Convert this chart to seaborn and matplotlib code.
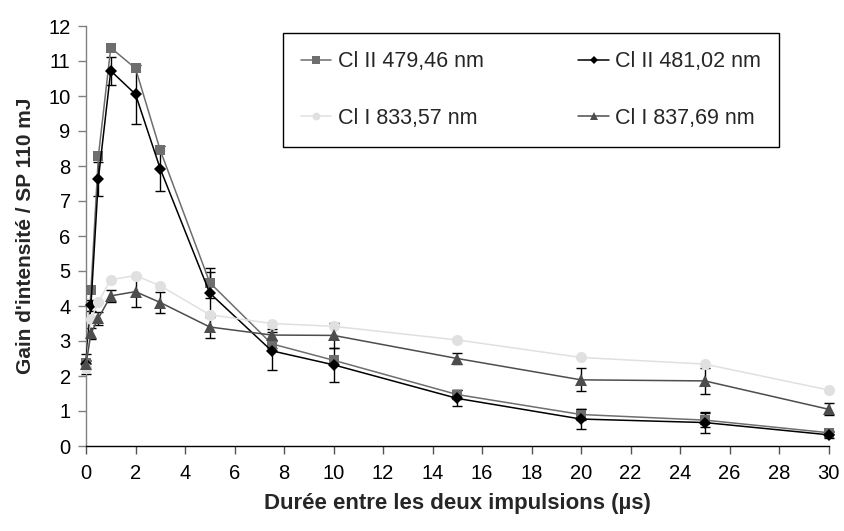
import pandas as pd
import numpy as np
import seaborn as sns
import matplotlib
matplotlib.use("Agg")
import matplotlib.pyplot as plt

# data
delay_us = [0, 0.2, 0.5, 1, 2, 3, 5, 7.5, 10, 15, 20, 25, 30]
series_names = ["Cl II 479,46 nm", "Cl II 481,02 nm", "Cl I 833,57 nm", "Cl I 837,69 nm"]
gain_cl2_479 = [2.36, 4.45, 8.28, 11.38, 10.79, 8.45, 4.67, 2.92, 2.45, 1.47, 0.90, 0.74, 0.38]
gain_cl2_481 = [2.35, 4.02, 7.63, 10.72, 10.05, 7.92, 4.37, 2.72, 2.32, 1.36, 0.77, 0.67, 0.32]
gain_cl1_833 = [2.22, 3.62, 4.12, 4.75, 4.87, 4.58, 3.75, 3.50, 3.42, 3.03, 2.53, 2.34, 1.60]
gain_cl1_837 = [2.33, 3.22, 3.65, 4.29, 4.41, 4.10, 3.40, 3.17, 3.16, 2.50, 1.89, 1.86, 1.05]
err_cl2_479 = [0.10, 0, 0, 0, 0, 0, 0.43, 0.12, 0, 0.14, 0.16, 0.20, 0.05]
err_cl2_481 = [0.29, 0.15, 0.48, 0.40, 0.85, 0.64, 0.60, 0.55, 0.49, 0.23, 0.29, 0.30, 0.08]
err_cl1_833 = [0] * 13
err_cl1_837 = [0.10, 0.15, 0.19, 0.17, 0.43, 0.30, 0.30, 0.17, 0.36, 0.17, 0.33, 0.36, 0.17]

gains = [gain_cl2_479, gain_cl2_481, gain_cl1_833, gain_cl1_837]
errs = [err_cl2_479, err_cl2_481, err_cl1_833, err_cl1_837]

df = pd.concat([
    pd.DataFrame({"delay": delay_us, "gain": g, "err": e, "raie": name})
    for name, g, e in zip(series_names, gains, errs)
], ignore_index=True)

colors = dict(zip(series_names, ["#6e6e6e", "#000000", "#e0e0e0", "#4d4d4d"]))
markers = dict(zip(series_names, ["s", "D", "o", "^"]))
msizes = dict(zip(series_names, [7.5, 6.0, 8.0, 8.0]))

sns.set_style("white")
plt.rcParams["font.family"] = ["Liberation Sans", "DejaVu Sans"]

fig = plt.figure(figsize=(8.44, 5.31), dpi=100)
ax = fig.add_axes([86 / 844, 1 - 446 / 531, (828.5 - 86) / 844, (446 - 26) / 531])

# error bars first, lines and markers over them
for name in series_names:
    d = df[(df.raie == name) & (df.err > 0)]
    ax.errorbar(d.delay, d.gain, yerr=d.err, fmt="none", ecolor="black",
                elinewidth=1, capsize=3.5, capthick=1, zorder=2)

for name in series_names:
    d = df[df.raie == name]
    sns.lineplot(data=d, x="delay", y="gain", ax=ax, color=colors[name],
                 marker=markers[name], markersize=msizes[name],
                 markeredgewidth=0, linewidth=1.1, label=name, zorder=3)

# axes
ax.set_xlim(0, 30)
ax.set_ylim(0, 12)
ax.set_xticks(np.arange(0, 31, 2))
ax.set_yticks(np.arange(0, 13, 1))
ax.tick_params(axis="both", direction="out", length=6, width=1, labelsize=14.5,
               left=True, bottom=True)
ax.tick_params(axis="y", colors="#808080", labelcolor="black", pad=5)
ax.tick_params(axis="x", colors="#555555", labelcolor="black", pad=7)
for s in ["top", "right"]:
    ax.spines[s].set_visible(False)
ax.spines["left"].set_color("#808080")
ax.spines["bottom"].set_color("black")
ax.spines["left"].set_linewidth(1)
ax.spines["bottom"].set_linewidth(1)
for artist in ax.lines + ax.collections:
    artist.set_clip_on(False)

ax.set_xlabel("Durée entre les deux impulsions (µs)", fontsize=16,
              fontweight="bold", labelpad=7)
ax.set_ylabel("Gain d'intensité / SP 110 mJ", fontsize=15,
              fontweight="bold", labelpad=10)

# legend: two rows, two columns
handles, labels = ax.get_legend_handles_labels()
order = [0, 2, 1, 3]
leg = ax.legend([handles[i] for i in order], [labels[i] for i in order],
                ncol=2, loc="upper left",
                bbox_to_anchor=(283 / 844, 1 - 33 / 531),
                bbox_transform=fig.transFigure,
                fontsize=15.5, frameon=True, fancybox=False, edgecolor="black",
                framealpha=1, handlelength=1.4, handletextpad=0.3,
                columnspacing=4.4, labelspacing=1.65, borderpad=0.85,
                borderaxespad=0, markerscale=0.7)
leg.get_frame().set_linewidth(1)

plt.savefig("out.png", dpi=100)
